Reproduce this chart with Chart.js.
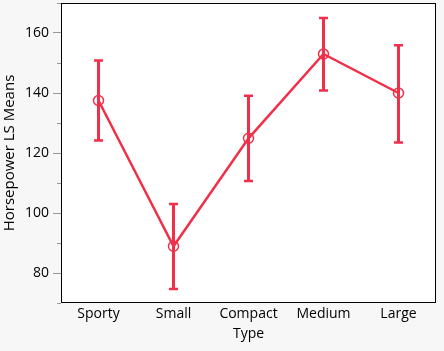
<!DOCTYPE html>
<html>
<head>
<meta charset="utf-8">
<script src="https://cdn.jsdelivr.net/npm/chart.js@4/dist/chart.umd.min.js"></script>
<style>
  html, body { margin: 0; padding: 0; background: #f7f7f7; }
  #wrap { width: 444px; height: 351px; }
</style>
</head>
<body>
<div id="wrap"><canvas id="c" width="444" height="351"></canvas></div>
<script>
const categories = ["Sporty", "Small", "Compact", "Medium", "Large"];
const lsMeans = [137.5, 88.9, 124.9, 153.0, 140.0];
const upperCI = [150.8, 103.0, 139.1, 165.0, 155.9];
const lowerCI = [124.2, 74.7, 110.7, 140.8, 123.5];
const majorTicks = [80, 100, 120, 140, 160];
const minorTicks = [70, 90, 110, 130, 150, 170];

const RED = "rgb(240,48,72)";
const FONT = "'Open Sans', 'Noto Sans', sans-serif";

const frame = {
  id: "frame",
  beforeDatasetsDraw(chart) {
    const a = chart.chartArea, ctx = chart.ctx;
    ctx.save();
    ctx.fillStyle = "#ffffff";
    ctx.fillRect(a.left, a.top, a.right - a.left, a.bottom - a.top);
    ctx.restore();
  },
  afterDraw(chart) {
    const a = chart.chartArea, ctx = chart.ctx, y = chart.scales.y;
    ctx.save();
    ctx.strokeStyle = "#000";
    ctx.lineWidth = 1;
    ctx.strokeRect(Math.round(a.left) + 0.5, Math.round(a.top) + 0.5,
      Math.round(a.right - a.left) - 1, Math.round(a.bottom - a.top) - 1);
    ctx.strokeStyle = "#999";
    ctx.beginPath();
    minorTicks.forEach(v => {
      const py = Math.round(y.getPixelForValue(v)) + 0.5;
      ctx.moveTo(a.left - 4, py);
      ctx.lineTo(a.left, py);
    });
    ctx.stroke();
    ctx.restore();
  }
};

const errorBars = {
  id: "errorBars",
  afterDatasetsDraw(chart) {
    const meta = chart.getDatasetMeta(0), y = chart.scales.y, ctx = chart.ctx;
    ctx.save();
    ctx.strokeStyle = RED;
    ctx.lineCap = "butt";
    meta.data.forEach((pt, i) => {
      const x = pt.x;
      const yt = y.getPixelForValue(upperCI[i]);
      const yb = y.getPixelForValue(lowerCI[i]);
      ctx.lineWidth = 3;
      ctx.beginPath();
      ctx.moveTo(x, yt);
      ctx.lineTo(x, yb);
      ctx.stroke();
      ctx.lineWidth = 2.5;
      ctx.beginPath();
      ctx.moveTo(x - 4.5, yt);
      ctx.lineTo(x + 4.5, yt);
      ctx.moveTo(x - 4.5, yb);
      ctx.lineTo(x + 4.5, yb);
      ctx.stroke();
    });
    ctx.restore();
  }
};

new Chart(document.getElementById("c"), {
  type: "line",
  data: {
    labels: categories,
    datasets: [{
      data: lsMeans,
      borderColor: RED,
      borderWidth: 2.5,
      pointRadius: 5,
      pointHoverRadius: 5,
      pointBorderWidth: 1.5,
      pointBorderColor: RED,
      pointBackgroundColor: "rgba(0,0,0,0)",
      tension: 0,
      fill: false
    }]
  },
  options: {
    responsive: false,
    animation: false,
    events: [],
    layout: { autoPadding: false, padding: { left: 0, right: 8, top: 3, bottom: 0 } },
    plugins: { legend: { display: false }, tooltip: { enabled: false } },
    scales: {
      x: {
        type: "category",
        offset: true,
        grid: { display: false, drawTicks: false },
        border: { display: false },
        ticks: { color: "#000", font: { family: FONT, size: 14 }, padding: 3, maxRotation: 0 },
        title: { display: true, text: "Type", color: "#000", font: { family: FONT, size: 14 }, padding: { top: 0, bottom: 9 } },
        afterFit(s) { s.height = 48; s.paddingLeft = 0; s.paddingRight = 0; }
      },
      y: {
        min: 70,
        max: 170,
        afterBuildTicks(s) { s.ticks = majorTicks.map(v => ({ value: v })); },
        grid: { drawOnChartArea: false, drawTicks: true, tickLength: 8, tickColor: "#999" },
        border: { display: false },
        ticks: { color: "#000", font: { family: FONT, size: 14, lineHeight: 0.5 }, padding: 4 },
        title: { display: true, text: "Horsepower LS Means", color: "#000", font: { family: FONT, size: 15 }, padding: { top: 1, bottom: 6 } },
        afterFit(s) {
          s.width = 61; s.paddingTop = 0; s.paddingBottom = 0;
          if (s._margins) { s._margins.top = 0; s._margins.bottom = 0; }
        }
      }
    }
  },
  plugins: [frame, errorBars]
});
</script>
</body>
</html>
